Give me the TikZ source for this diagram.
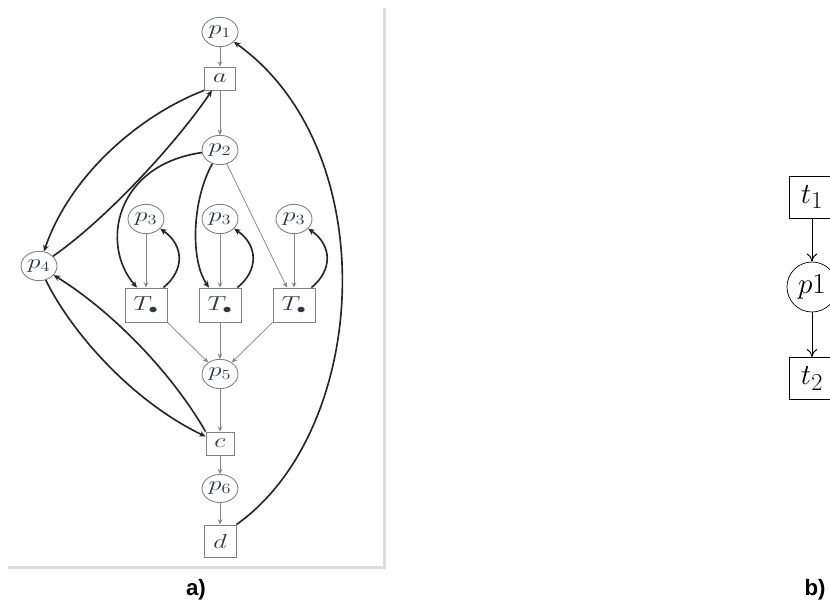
\documentclass[tikz,border=0pt]{standalone}
\usepackage{fontspec}
\usepackage{graphicx}
\newfontfamily\panelfont{Liberation Sans}
\usetikzlibrary{arrows.meta,calc,shapes.geometric}

\definecolor{edgegray}{HTML}{858585}
\definecolor{bordergray}{HTML}{808080}
\definecolor{framegray}{HTML}{DCDCDC}
\definecolor{inkdark}{HTML}{262626}
\definecolor{labelink}{HTML}{30364A}

% labels of the large net are set a little wider than normal
\newcommand{\wlbl}[1]{\scalebox{1.3}[1.0]{$#1$}}

\begin{document}
\begin{tikzpicture}[x={(0.03cm,0)}, y={(0,-0.03cm)},
  netfont/.style={font=\fontsize{17.28}{20}\selectfont, text=labelink},
  place/.style={ellipse, draw=bordergray, line width=0.75pt, inner sep=0pt,
    minimum width=1.08cm, minimum height=0.88cm, netfont},
  trans/.style={rectangle, draw=bordergray, line width=0.75pt, inner sep=0pt, netfont},
  flow/.style={draw=edgegray, line width=0.65pt, -{Stealth[length=4.5pt,width=4pt]}},
  readarc/.style={draw=inkdark, line width=1.4pt, -{Stealth[length=5.5pt,width=5pt]}},
  bplace/.style={circle, draw=black, line width=0.6pt, inner sep=0pt,
    minimum size=1.5cm, font=\fontsize{24.88}{28}\selectfont},
  btrans/.style={rectangle, draw=black, line width=0.6pt, inner sep=0pt,
    minimum width=1.38cm, minimum height=1.26cm, font=\fontsize{24.88}{28}\selectfont},
  bflow/.style={draw=black, line width=0.8pt,
    -{Computer Modern Rightarrow[length=7pt,width=9pt]}},
  panel/.style={font=\panelfont\bfseries\fontsize{19}{22}\selectfont, anchor=base}
]
\useasboundingbox (0,0) rectangle (830,601);

% light frame along the right and bottom of panel a
\draw[framegray, line width=2.5pt] (384.5,8) -- (384.5,567.5) -- (8,567.5);

% ---- panel a: places and transitions ----
\node[place] (p1) at (220,32) {\wlbl{p_1}};
\node[trans, minimum width=0.93cm, minimum height=0.69cm] (a) at (220,78.5) {\wlbl{a}};
\node[place] (p2) at (220,150) {\wlbl{p_2}};
\node[place] (p3l) at (146,219) {\wlbl{p_3}};
\node[place] (p3m) at (220,219) {\wlbl{p_3}};
\node[place] (p3r) at (294,219) {\wlbl{p_3}};
\node[place] (p4) at (39,266) {\wlbl{p_4}};
\node[trans, minimum width=1.26cm, minimum height=1.02cm] (tl) at (146,305) {\wlbl{T_\bullet}};
\node[trans, minimum width=1.26cm, minimum height=1.02cm] (tm) at (220,305) {\wlbl{T_\bullet}};
\node[trans, minimum width=1.26cm, minimum height=1.02cm] (tr) at (294,305) {\wlbl{T_\bullet}};
\node[place] (p5) at (220,374) {\wlbl{p_5}};
\node[trans, minimum width=0.84cm, minimum height=0.69cm] (c) at (220,443.5) {\wlbl{c}};
\node[place, minimum height=0.84cm] (p6) at (220,488.5) {\wlbl{p_6}};
\node[trans, minimum width=0.96cm, minimum height=0.96cm] (d) at (220,541) {\wlbl{d}};

% ---- panel a: main flow ----
\draw[flow] (p1) -- (a);
\draw[flow] (a) -- (p2);
\draw[flow] (p3l) -- (tl);
\draw[flow] (p3m) -- (tm);
\draw[flow] (p3r) -- (tr);
\draw[flow] (p2) -- ($(tr.north)+(-7,0)$);
\draw[flow] (tl.south east) -- (p5);
\draw[flow] (tm) -- (p5);
\draw[flow] (tr.south west) -- (p5);
\draw[flow] (p5) -- (c);
\draw[flow] (c) -- (p6);
\draw[flow] (p6) -- (d);

% ---- panel a: heavy arcs ----
\draw[readarc] (a.south west) .. controls (140,115) and (70,175) .. (p4);
\draw[readarc] (p4) .. controls (105,220) and (175,145) .. (a);
\draw[readarc] (p2) .. controls (115,165) and (100,245) .. ($(tl.north)+(-9,0)$);
\draw[readarc] (p2) .. controls (192,200) and (190,260) .. ($(tm.north)+(-11,0)$);
\foreach \t/\p in {tl/p3l, tm/p3m, tr/p3r}{
  \draw[readarc] ($(\t.north east)+(-4,0)$) .. controls ($(\t)+(39,-35)$)
    and ($(\p)+(38,26)$) .. (\p);
}
\draw[readarc] (p4) .. controls (70,330) and (130,400) .. (c);
\draw[readarc] (c.north west) .. controls (170,370) and (110,310) .. (p4);
\draw[readarc] (d.north east) .. controls (370,430) and (385,150) .. (p1);

% ---- panel b ----
\node[btrans] (t1) at (812,197) {$t_1$};
\node[bplace] (q1) at (812,287) {$p1$};
\node[btrans] (t2) at (812,378.5) {$t_2$};
\draw[bflow] (t1) -- (q1);
\draw[bflow] (q1) -- (t2);

% ---- panel captions ----
\node[panel] (capa) at (196,596) {a)};
\node[panel] (capb) at (815,596) {b)};
\end{tikzpicture}
\end{document}
